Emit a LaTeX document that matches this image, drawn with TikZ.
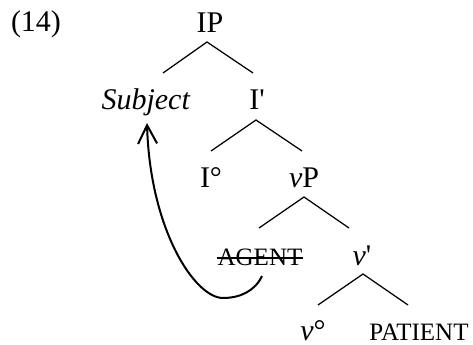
\documentclass[tikz,border=0pt]{standalone}
\usepackage{fontspec}
\setmainfont{Liberation Serif}
\usetikzlibrary{arrows.meta}

\begin{document}
\begin{tikzpicture}[x=0.4pt, y=-0.4pt,
  every node/.style={inner sep=0pt, anchor=base, font=\fontsize{12}{14}\selectfont},
  smallcap/.style={font=\fontsize{10}{12}\selectfont},
  branch/.style={line width=.5pt},
  move/.style={line width=.8pt, -{Straight Barb[length=7.4pt, width=7.6pt, line width=.8pt]}}]
\useasboundingbox (0,0) rectangle (473,345);
\node (ex) at (36,32) {(14)};
\node (ip) at (210,33) {IP};
\node (subj) at (146,110) {\textit{Subject}};
\node (ibar) at (257,110) {I\textquotesingle};
\node (ihead) at (211,188) {I°};
\node (vp) at (304,188) {\textit{v}P};
\node[smallcap] (agent) at (260,266) {AGENT};
\node (vbar) at (362,266) {\textit{v}\textquotesingle};
\node (vhead) at (313,341) {\textit{v}°};
\node[smallcap] (patient) at (419,341) {PATIENT};
\coordinate (ip-a) at (207,42); \coordinate (ip-l) at (163,73); \coordinate (ip-r) at (253,73);
\coordinate (ibar-a) at (256,120); \coordinate (ibar-l) at (211,151); \coordinate (ibar-r) at (302,151);
\coordinate (vp-a) at (304,197); \coordinate (vp-l) at (259,228); \coordinate (vp-r) at (349,228);
\coordinate (vbar-a) at (363,274); \coordinate (vbar-l) at (318,305); \coordinate (vbar-r) at (408,305);
\draw[branch] (ip-l) -- (ip-a) -- (ip-r);
\draw[branch] (ibar-l) -- (ibar-a) -- (ibar-r);
\draw[branch] (vp-l) -- (vp-a) -- (vp-r);
\draw[branch] (vbar-l) -- (vbar-a) -- (vbar-r);
% trace crossed out
\draw[branch] ([yshift=3.2pt]agent.base west) -- ([yshift=3.2pt]agent.base east);
% movement of the agent
\coordinate (from) at (262,276);
\coordinate (low) at (223,298);
\coordinate (to) at (147,123);
\draw[move] (from) .. controls (255,291) and (240,298) .. (low) .. controls (195,298) and (150,230) .. (to);
\end{tikzpicture}
\end{document}
